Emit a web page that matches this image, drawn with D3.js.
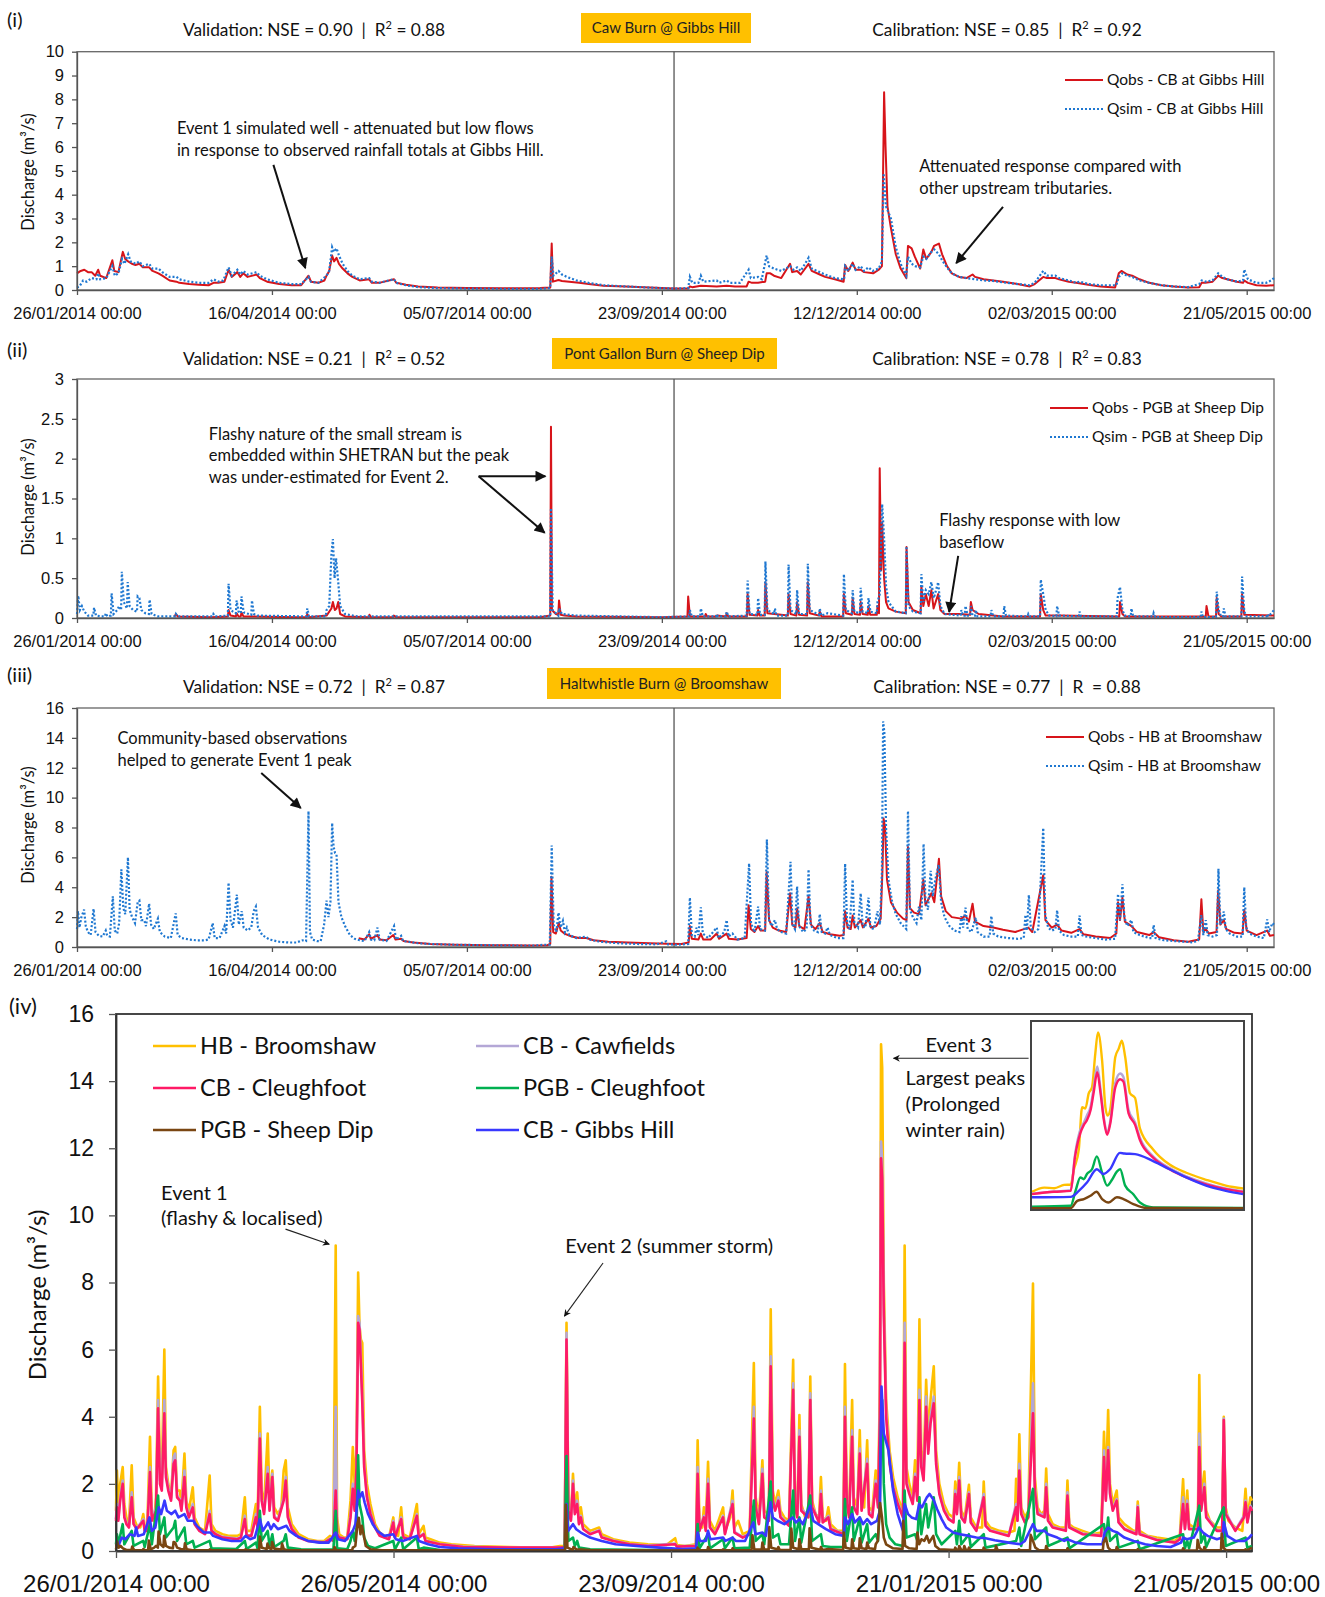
<!DOCTYPE html>
<html>
<head>
<meta charset="utf-8">
<script src="https://cdn.jsdelivr.net/npm/d3@7"></script>
<style>
body { margin: 0; background: #fff; }
svg { font-family: Lato, "Open Sans", sans-serif; }
text { white-space: pre; }
</style>
</head>
<body>
<svg id="chart" width="1325" height="1597"></svg>
<script>
// ---- time axis ----
var START = Date.UTC(2014, 0, 26);
var END_DAY = 491.2;
var DIVIDER_DAY = 245;   // validation | calibration split
var topTicks = ["26/01/2014 00:00", "16/04/2014 00:00", "05/07/2014 00:00", "23/09/2014 00:00",
                "12/12/2014 00:00", "02/03/2015 00:00", "21/05/2015 00:00"];
var bottomTicks = ["26/01/2014 00:00", "26/05/2014 00:00", "23/09/2014 00:00", "21/01/2015 00:00", "21/05/2015 00:00"];

// ---- stats ----
var stations = ["Caw Burn @ Gibbs Hill", "Pont Gallon Burn @ Sheep Dip", "Haltwhistle Burn @ Broomshaw"];
var valNSE = [0.90, 0.21, 0.72];
var valR2 = [0.88, 0.52, 0.87];
var calNSE = [0.85, 0.78, 0.77];
var calR2 = [0.92, 0.83, 0.88];
var obsLabels = ["Qobs - CB at Gibbs Hill", "Qobs - PGB at Sheep Dip", "Qobs - HB at Broomshaw"];
var simLabels = ["Qsim - CB at Gibbs Hill", "Qsim - PGB at Sheep Dip", "Qsim - HB at Broomshaw"];

// ---- series: [day since 26/01/2014, discharge m3/s] ----
var gibObs = [[0,0.7],[1.5,0.8],[3,0.85],[4.5,0.75],[6,0.75],[7.5,0.6],[8.7,0.85],[9.5,0.6],[12,0.5],[14.5,1.25],[15.3,0.8],[17,0.75],[18.8,1.6],[19.8,1.3],[21,1.2],[22.5,1.1],[24,1.05],[25.6,1.1],[27,0.95],[29.6,0.95],[31,0.8],[33.4,0.7],[35,0.6],[38,0.4],[40.8,0.35],[42,0.3],[46,0.25],[50,0.22],[54,0.2],[56,0.3],[58,0.3],[60.5,0.35],[62.2,0.85],[63.5,0.55],[65.8,0.75],[67,0.55],[68.2,0.7],[70,0.55],[73.7,0.65],[75,0.5],[78,0.35],[83,0.25],[88,0.2],[92,0.2],[95,0.6],[96,0.35],[99,0.3],[101.5,0.4],[102.4,0.6],[103.5,0.8],[104.7,1.45],[105.5,1.2],[106.5,1.35],[107.5,1.1],[109,0.9],[111,0.7],[113,0.55],[116,0.4],[119.9,0.45],[121,0.3],[124,0.3],[130.1,0.45],[131,0.3],[135,0.22],[140,0.15],[148,0.1],[160,0.08],[175,0.07],[190,0.08],[194.2,0.1],[194.8,1.95],[195.3,0.35],[197.6,0.42],[199,0.38],[202,0.35],[206,0.3],[210,0.25],[216,0.18],[225,0.15],[235,0.1],[245,0.06],[250.8,0.06],[251.5,0.15],[252.5,0.12],[256,0.18],[262.5,0.15],[266.6,0.18],[270,0.15],[274.8,0.15],[275.6,0.35],[277,0.3],[279.5,0.3],[282.4,0.35],[283,0.7],[284.5,0.7],[286,0.6],[289,0.5],[292.6,1.1],[293.5,0.75],[295.5,0.8],[297,0.65],[300.2,1.1],[301.5,0.8],[304.8,0.65],[307,0.55],[311,0.45],[314.6,0.35],[315.2,1.05],[316.5,0.8],[318.3,1.15],[319.5,0.85],[321.6,0.85],[323,0.75],[326.7,0.7],[329,0.85],[330.3,1.0],[331.2,8.3],[331.8,6.0],[332.6,3.5],[334,2.6],[336,1.5],[338,0.9],[340.3,0.5],[341,1.85],[342.5,1.75],[343.8,1.4],[346,0.9],[347.3,1.7],[348.5,1.3],[350.6,1.6],[351.7,1.85],[353.7,1.95],[355,1.5],[357,1.0],[359,0.7],[362,0.55],[365,0.5],[367.5,0.65],[368.5,0.55],[372,0.45],[376,0.4],[380,0.35],[386,0.25],[391,0.15],[393,0.25],[396.5,0.55],[398,0.5],[401.5,0.5],[403,0.45],[407,0.35],[410,0.3],[415,0.22],[420,0.15],[426,0.1],[427.5,0.7],[428.6,0.8],[431,0.65],[433,0.6],[436,0.45],[440,0.3],[445,0.2],[450,0.15],[456,0.1],[460.5,0.12],[461.5,0.3],[463,0.3],[466,0.35],[468.3,0.6],[470,0.5],[472,0.45],[476,0.35],[478.5,0.3],[479,0.4],[480.5,0.3],[484,0.2],[488,0.18],[491.2,0.2]];

var gibSim = [[0,0.1],[1,0.15],[2.5,0.4],[4,0.35],[6,0.5],[8,0.45],[8.7,0.7],[9.5,0.45],[12,0.5],[14.5,1.0],[15.5,0.6],[17,0.7],[18.5,1.3],[19.5,1.1],[21,1.5],[22,1.2],[24,1.1],[25.6,1.2],[27,1.0],[29.6,1.1],[31,0.9],[33.4,0.9],[35,0.75],[38,0.55],[40.8,0.55],[42,0.45],[46,0.35],[50,0.3],[54,0.3],[56,0.45],[58,0.35],[60,0.4],[62.2,0.95],[63.5,0.6],[65.8,0.85],[67,0.65],[68.2,0.8],[70,0.65],[73.7,0.75],[75,0.6],[78,0.45],[83,0.3],[88,0.25],[92,0.25],[95,0.55],[96,0.35],[99,0.3],[102.4,0.6],[103.5,0.8],[104.7,1.8],[105.5,1.6],[106.5,1.75],[107.5,1.45],[109,1.1],[111,0.8],[113,0.6],[116,0.45],[119.9,0.5],[121,0.35],[124,0.3],[130.1,0.45],[131,0.3],[135,0.2],[140,0.12],[148,0.08],[160,0.06],[175,0.05],[190,0.05],[194.2,0.08],[194.8,1.4],[195.5,0.6],[197.6,0.8],[199,0.65],[201,0.55],[205,0.4],[210,0.3],[216,0.2],[225,0.15],[235,0.1],[245,0.06],[250.8,0.08],[251.5,0.55],[252.5,0.3],[255,0.3],[256,0.6],[257,0.35],[262.5,0.4],[263.5,0.3],[266.6,0.4],[268,0.3],[272,0.3],[275.6,0.85],[276.5,0.5],[279.5,0.55],[281,0.45],[283,1.45],[284,1.0],[286,0.9],[289,0.8],[292.6,1.0],[294,0.85],[295.5,0.95],[297,0.8],[300.2,1.35],[301.5,0.9],[304.8,0.75],[307,0.65],[311,0.5],[314.8,0.45],[315.2,1.0],[316.5,0.8],[318.3,1.1],[319.5,0.85],[321.6,1.0],[323,0.8],[324.8,0.95],[326.5,0.8],[329,0.9],[330.3,1.2],[331,4.9],[332,3.5],[334,3.0],[336,1.8],[338,1.1],[340.3,0.6],[341,1.4],[342.5,1.1],[344,1.0],[346,0.95],[347.3,1.4],[348.5,1.3],[350.6,1.6],[351.8,1.7],[353.7,1.5],[355,1.25],[357,0.95],[359,0.7],[362,0.55],[365,0.5],[368.8,0.45],[372,0.4],[376,0.38],[380,0.32],[386,0.25],[391,0.2],[393,0.3],[396.5,0.8],[398,0.6],[401.5,0.6],[403,0.5],[407,0.4],[410,0.3],[411.4,0.35],[415,0.25],[420,0.2],[426.5,0.2],[427.5,0.55],[429,0.7],[431,0.6],[433,0.55],[436,0.4],[440,0.3],[445,0.2],[450,0.15],[456,0.12],[460.5,0.25],[461.5,0.4],[463,0.35],[466,0.4],[468.3,0.7],[470,0.55],[472,0.45],[476,0.35],[478.5,0.4],[479,0.86],[480.5,0.45],[484,0.3],[488,0.3],[490,0.4],[491.2,0.5]];

var pgbObs = [[40,0.02],[40.6,0.05],[41.3,0.02],[55,0.01],[61.9,0.02],[62.2,0.1],[63,0.03],[65.2,0.02],[65.5,0.06],[66.3,0.02],[67.2,0.02],[67.5,0.07],[68.3,0.02],[72,0.02],[90,0.01],[94.2,0.01],[94.5,0.05],[95.2,0.01],[102.4,0.03],[104.4,0.12],[105,0.2],[105.8,0.1],[106.5,0.12],[107.2,0.2],[108,0.05],[110,0.02],[119.7,0.01],[120,0.04],[120.6,0.01],[129.7,0.01],[130,0.03],[131,0.01],[190,0.01],[194.2,0.03],[194.5,2.4],[194.9,0.1],[196.5,0.05],[197.5,0.04],[197.8,0.22],[198.5,0.04],[200,0.03],[205,0.02],[240,0.01],[250.5,0.02],[250.8,0.27],[251.5,0.02],[257.7,0.02],[258,0.05],[258.6,0.02],[262.2,0.02],[262.5,0.03],[266.3,0.02],[266.6,0.06],[267.2,0.02],[274.9,0.02],[275.2,0.3],[276,0.04],[279.2,0.03],[279.5,0.1],[280.2,0.03],[282.2,0.03],[282.5,0.45],[283.3,0.06],[291.7,0.03],[292,0.3],[292.8,0.05],[295.2,0.03],[295.5,0.2],[296.3,0.04],[299.6,0.03],[299.9,0.45],[300.7,0.06],[304.5,0.03],[304.8,0.08],[305.5,0.02],[314.4,0.02],[314.7,0.3],[315.5,0.06],[318,0.04],[318.3,0.25],[319,0.05],[321.3,0.04],[321.6,0.2],[322.4,0.05],[324.5,0.04],[324.8,0.15],[325.5,0.04],[328.2,0.04],[328.5,0.15],[329.1,0.06],[329.4,1.88],[330,0.6],[330.4,1.2],[331.2,0.5],[332,0.2],[333,0.12],[336,0.08],[340.1,0.06],[340.4,0.89],[341.2,0.2],[343,0.1],[346.2,0.06],[346.5,0.4],[347.3,0.15],[348.3,0.3],[349.5,0.15],[350.6,0.35],[351.5,0.12],[353.4,0.3],[354.3,0.1],[356,0.05],[362,0.05],[366.5,0.04],[366.8,0.2],[367.5,0.1],[370,0.05],[380,0.02],[395.2,0.02],[395.5,0.3],[396.5,0.1],[397.5,0.03],[403,0.03],[427.7,0.02],[428,0.2],[429,0.05],[430,0.02],[440,0.02],[463.2,0.02],[463.5,0.15],[464.3,0.02],[467.4,0.02],[467.7,0.25],[468.5,0.05],[469.5,0.02],[477.8,0.02],[478.1,0.3],[479,0.04],[491.2,0.03]];

var pgbSim = [[0,0.05],[0.5,0.28],[1.2,0.1],[2,0.15],[3,0.08],[4.5,0.03],[6.7,0.03],[7,0.13],[7.8,0.03],[10,0.02],[11.5,0.02],[11.8,0.06],[12.5,0.02],[13.9,0.03],[14.2,0.31],[15,0.05],[16.5,0.1],[17.3,0.15],[18.1,0.1],[18.4,0.58],[19.2,0.2],[20.5,0.12],[20.8,0.45],[21.6,0.15],[23,0.1],[24.6,0.08],[24.9,0.27],[25.6,0.25],[26.4,0.1],[28,0.06],[29.5,0.05],[29.8,0.23],[30.6,0.05],[33,0.02],[40.3,0.02],[40.6,0.05],[41.3,0.02],[55.7,0.02],[56,0.05],[56.8,0.02],[61.9,0.03],[62.2,0.43],[63,0.1],[64,0.08],[65.2,0.06],[65.5,0.22],[66.3,0.08],[67.2,0.06],[67.5,0.27],[68.4,0.07],[70.5,0.05],[71.5,0.04],[71.8,0.22],[72.6,0.05],[74,0.03],[94.2,0.02],[94.5,0.12],[95.2,0.02],[102.1,0.02],[102.4,0.1],[103.5,0.15],[104.4,0.8],[105,0.99],[105.7,0.5],[106.3,0.75],[107.2,0.45],[108,0.15],[110,0.05],[115,0.02],[194.2,0.02],[194.5,1.38],[195.2,0.1],[197.5,0.03],[197.8,0.12],[199,0.05],[205,0.03],[240,0.01],[250.8,0.02],[251.3,0.02],[251.5,0.1],[252.3,0.02],[255.7,0.02],[256,0.12],[256.8,0.02],[262.2,0.02],[262.5,0.05],[263,0.02],[266.3,0.02],[266.6,0.08],[267.3,0.02],[274.8,0.03],[275.2,0.47],[276,0.05],[279.2,0.04],[279.5,0.25],[280.3,0.04],[282.2,0.04],[282.5,0.71],[283.3,0.1],[286,0.05],[286.4,0.12],[287,0.03],[291.7,0.03],[292,0.67],[292.8,0.1],[295.2,0.05],[295.5,0.35],[296.3,0.05],[299.6,0.05],[299.9,0.68],[300.7,0.1],[304.5,0.04],[304.8,0.12],[305.5,0.03],[308,0.06],[314.4,0.03],[314.7,0.55],[315.5,0.1],[318,0.06],[318.3,0.35],[319,0.08],[321.3,0.06],[321.6,0.38],[322.4,0.08],[324.5,0.06],[324.8,0.25],[325.6,0.08],[328.2,0.06],[328.5,0.2],[329.4,0.3],[330.4,1.43],[331.2,1.0],[332,0.4],[333,0.2],[336,0.08],[340.1,0.06],[340.4,0.9],[341.2,0.15],[343,0.08],[346.2,0.06],[346.5,0.55],[347.3,0.2],[348.3,0.35],[349.5,0.3],[350.6,0.45],[351.6,0.25],[353.4,0.45],[354.3,0.15],[356,0.05],[362.6,0.03],[362.9,0.1],[363.5,0.03],[364.3,0.03],[364.6,0.15],[365.5,0.03],[366.5,0.03],[366.8,0.15],[367.5,0.03],[368.5,0.03],[368.8,0.1],[369.5,0.02],[374.9,0.02],[375.2,0.1],[376,0.02],[380.2,0.02],[380.5,0.15],[381.2,0.03],[390.1,0.02],[390.4,0.05],[391,0.02],[395.2,0.02],[395.5,0.48],[396.5,0.3],[397.5,0.1],[399,0.03],[401.9,0.02],[402.2,0.15],[403,0.03],[411.1,0.02],[411.4,0.08],[412,0.02],[426.7,0.02],[427,0.25],[428,0.39],[429,0.1],[430,0.03],[432.4,0.02],[432.7,0.12],[433.4,0.02],[441.5,0.02],[441.8,0.06],[442.4,0.01],[461.1,0.01],[461.4,0.08],[462,0.01],[467.4,0.01],[467.7,0.33],[468.5,0.1],[469.5,0.02],[470.3,0.02],[470.6,0.12],[471.3,0.02],[477.8,0.02],[478.1,0.52],[479,0.08],[480,0.02],[488.1,0.02],[488.4,0.05],[489,0.02],[491.2,0.1]];

var hbObs = [[115.6,0.58],[118,0.5],[119.9,0.85],[120.6,0.55],[123.3,0.8],[124.2,0.5],[127,0.45],[129.8,0.8],[130.7,0.5],[133,0.55],[134,0.4],[138,0.3],[145,0.2],[155,0.15],[170,0.12],[185,0.1],[193,0.12],[194.2,0.2],[194.7,4.7],[195.4,1.0],[196.5,0.9],[197.7,1.6],[198.5,1.1],[200,0.9],[203,0.7],[206,0.6],[209,0.6],[212,0.45],[218,0.35],[226,0.3],[235,0.25],[242,0.22],[248,0.2],[251,0.3],[251.5,1.4],[252.3,0.55],[255,0.5],[256,0.9],[257,0.5],[260,0.5],[262.5,0.9],[263.5,0.55],[266.6,0.9],[267.5,0.55],[271,0.5],[274.8,0.6],[275.6,2.8],[276.5,1.2],[278,1.0],[279.5,1.4],[280.5,1.1],[282.4,1.1],[283,5.0],[284,1.8],[285.5,1.3],[288,1.1],[291,1.0],[292.6,3.6],[293.5,1.5],[294.8,1.3],[295.5,2.6],[296.4,1.4],[298.5,1.2],[300.2,3.4],[301.2,1.5],[303,1.2],[304.8,1.6],[306,1.0],[309,0.85],[313,0.75],[314.6,0.8],[315.2,2.4],[316.2,1.3],[317.5,1.2],[318.3,2.1],[319.2,1.3],[321.6,1.8],[322.5,1.3],[324.8,1.9],[325.8,1.3],[328,1.4],[329.8,1.9],[330.5,5.0],[331,8.6],[331.6,8.0],[332.4,4.5],[334,3.0],[336.5,2.3],[339,1.9],[340.4,1.8],[341,6.7],[341.8,2.6],[343.5,2.3],[345.5,2.2],[347.3,4.5],[348.2,2.8],[350.6,3.6],[351.8,3.0],[353.7,5.9],[354.6,3.4],[356.5,2.4],[359,2.0],[362.9,1.9],[364.6,2.1],[366,1.7],[367.5,2.9],[368.5,1.7],[372,1.4],[376,1.3],[380,1.15],[385,1.0],[390.4,1.3],[392,1.0],[396.5,4.8],[397.4,1.8],[400,1.3],[402.2,1.5],[404,1.1],[408,0.95],[411.4,1.2],[413,0.85],[418,0.7],[424,0.6],[426.5,0.9],[427.2,3.0],[428,1.8],[429,3.3],[430,1.7],[432.7,1.4],[435,1.0],[440,0.8],[441.8,1.0],[444,0.65],[450,0.45],[456,0.35],[460.5,0.5],[461.4,3.2],[462.2,1.0],[463.2,1.2],[464.5,0.9],[467.6,1.0],[468.3,3.8],[469.2,1.5],[470.6,1.8],[471.6,1.2],[475,0.95],[478.3,0.9],[479,2.5],[480,1.1],[484,0.8],[488.4,1.1],[489.5,0.75],[491.2,0.8]];

var hbSim = [[0,1.2],[0.4,2.4],[1,1.3],[1.8,2.0],[2.9,2.5],[3.6,1.4],[4.5,1.0],[5.6,0.8],[6.8,2.55],[7.6,1.0],[9,0.75],[10.5,0.7],[11.8,1.1],[12.4,0.75],[13.5,0.7],[14.7,3.4],[15.5,1.1],[16.5,0.9],[17.3,1.6],[18.2,5.2],[19,2.6],[19.8,2.2],[20.9,6.0],[21.6,2.5],[22.6,2.0],[23.8,1.6],[24.9,3.0],[25.6,3.1],[26.4,1.8],[27.6,1.8],[28.3,1.4],[29.6,2.9],[30.4,1.5],[31.5,1.2],[33.2,1.9],[34,1.0],[36,0.7],[38.5,0.6],[40.5,2.25],[41.3,0.8],[43,0.6],[46,0.5],[49,0.45],[52.4,0.45],[54,0.5],[55.7,1.6],[56.5,0.6],[58.5,0.6],[60.5,1.4],[61.2,0.9],[62.2,4.3],[63,1.8],[64,1.3],[65.6,3.5],[66.4,1.5],[67.6,2.4],[68.4,1.3],[70,1.1],[71.5,1.3],[72.5,2.4],[73.4,2.7],[74.3,1.3],[76,0.8],[79,0.5],[83,0.35],[87,0.3],[90,0.3],[92.5,0.45],[94,0.4],[95,9.1],[95.6,1.0],[96.5,0.5],[98.5,0.4],[100,0.4],[101.4,1.5],[102.4,3.1],[103.2,2.0],[104,3.0],[104.7,8.3],[105.3,6.7],[105.9,6.3],[106.5,6.2],[107.3,3.0],[108.5,2.0],[110,1.4],[112,0.8],[114,0.55],[116,0.45],[118,0.4],[119.9,1.0],[120.6,0.5],[122,0.45],[123.3,1.3],[124.2,0.5],[127,0.4],[130.1,1.4],[130.9,0.5],[133,0.75],[133.8,0.4],[136,0.35],[140,0.25],[145,0.2],[155,0.15],[170,0.12],[180,0.1],[188,0.1],[192,0.15],[194,0.15],[194.8,6.8],[195.6,1.5],[196.7,1.0],[197.6,2.3],[198.4,1.3],[199.4,1.75],[200.2,1.0],[201,1.3],[202,0.8],[205,0.6],[208.9,0.7],[210,0.5],[215,0.35],[222,0.25],[230,0.2],[238,0.18],[241.8,0.38],[242.5,0.18],[246,0.15],[250.8,0.2],[251.5,3.3],[252.3,0.8],[253.5,0.7],[254.2,1.3],[255,0.8],[256,2.66],[256.8,0.9],[259,0.6],[262.5,1.3],[263.3,0.6],[265.6,1.0],[266.6,1.8],[267.4,0.7],[269,0.9],[271,0.5],[274,0.6],[275.8,5.6],[276.6,1.6],[278,1.0],[279.5,2.7],[280.3,1.2],[282.3,1.1],[283.1,7.2],[284,1.8],[285,1.4],[286.4,1.8],[287.3,1.2],[289,1.0],[291,0.9],[292.8,5.7],[293.6,1.5],[294.6,1.2],[295.5,4.05],[296.3,1.4],[298,1.0],[299.4,1.2],[300.2,5.2],[301,1.5],[302.5,1.1],[304,1.0],[304.8,2.2],[305.6,1.0],[307,0.9],[308,1.3],[309,0.8],[312,0.6],[314.5,0.6],[315.2,5.57],[316,1.6],[317,1.2],[318.3,4.5],[319,1.6],[320.5,1.3],[321.6,3.6],[322.4,1.4],[323.5,1.3],[324.8,3.3],[325.6,1.3],[327,1.2],[328.5,2.4],[329.5,1.5],[330.3,5.0],[330.8,15.1],[331.3,14.4],[332,8.0],[333,4.5],[334.5,3.0],[336,2.2],[338,1.6],[340.3,1.2],[341,9.1],[341.8,2.5],[343,2.0],[344.5,1.6],[345.5,2.7],[346.5,1.8],[347.4,6.9],[348.2,3.0],[349.2,2.5],[350.3,5.1],[351.2,3.4],[352.2,4.5],[353.6,5.5],[354.6,3.0],[356,2.0],[358,1.4],[360,1.1],[362.1,1.0],[362.9,2.07],[363.6,1.3],[364.6,2.63],[365.5,1.2],[367,1.0],[368.8,1.97],[369.6,1.0],[372,0.7],[374.5,0.7],[375.2,2.07],[376,0.9],[378,0.7],[382,0.6],[386,0.55],[388.5,0.6],[389.2,2.15],[389.8,1.1],[390.6,3.48],[391.4,1.3],[393,1.0],[394.5,1.2],[396.5,7.97],[397.3,2.2],[398.5,1.3],[400,1.1],[401.5,1.2],[402.2,2.46],[403,1.1],[405,0.8],[408,0.7],[410.7,0.7],[411.4,2.1],[412.2,0.8],[414,0.7],[418,0.6],[422,0.5],[426,0.55],[427.2,3.55],[428,1.8],[429,4.2],[429.8,2.0],[431,1.4],[432.7,1.8],[433.5,1.0],[436,0.8],[440,0.6],[441.2,0.6],[441.8,1.47],[442.6,0.6],[446,0.45],[450,0.4],[455,0.35],[458,0.3],[460,0.45],[461.4,2.14],[462.2,0.8],[463.2,1.8],[464,0.8],[466,0.7],[467.8,0.8],[468.4,5.24],[469.2,1.5],[470.6,2.37],[471.4,1.2],[473,0.9],[476,0.7],[478.3,0.7],[479,4.0],[479.8,1.3],[481,0.9],[484,0.7],[487,0.6],[487.7,1.2],[488.4,1.85],[489.2,1.0],[490.5,1.6],[491.2,1.5]];

var cbCleugh = [[0,0.9],[0.4,1.3],[1,0.9],[1.8,1.5],[2.9,2.0],[3.6,1.0],[4.5,0.8],[5.6,0.7],[6.8,1.6],[7.6,0.8],[9,0.65],[11.8,0.9],[12.4,0.6],[13.5,0.6],[14.7,2.35],[15.5,0.9],[17.3,1.2],[18.2,4.25],[19,2.0],[19.8,1.8],[20.9,4.1],[21.6,2.2],[22.6,1.8],[23.8,1.5],[24.9,2.6],[25.6,2.7],[26.4,1.6],[27.6,1.5],[28.3,1.2],[29.6,2.2],[30.4,1.3],[31.5,1.0],[33.2,1.3],[34,0.8],[36,0.6],[38.5,0.5],[40.5,1.1],[41.3,0.6],[43,0.5],[46,0.4],[52.4,0.35],[54,0.4],[55.7,0.95],[56.5,0.45],[58.5,0.45],[60.5,1.0],[61.2,0.7],[62.2,3.35],[63,1.5],[64,1.1],[65.6,2.3],[66.4,1.2],[67.6,2.2],[68.4,1.0],[70,0.9],[72.5,1.5],[73.4,2.1],[74.3,1.0],[76,0.65],[79,0.4],[83,0.3],[90,0.25],[92.5,0.35],[94,0.3],[95,1.8],[95.6,0.5],[96.5,0.4],[100,0.35],[101.4,1.0],[102.4,1.85],[103.2,1.2],[104,2.5],[104.7,6.8],[105.3,6.6],[105.9,5.5],[106.5,4.4],[107.3,2.5],[108.5,1.6],[110,1.1],[112,0.7],[114,0.45],[118,0.35],[119.9,0.85],[120.6,0.4],[123.3,0.95],[124.2,0.4],[127,0.35],[130.1,1.05],[130.9,0.4],[133,0.5],[133.8,0.3],[140,0.2],[150,0.12],[170,0.1],[192,0.1],[194,0.12],[194.8,6.3],[195.6,1.2],[196.7,0.9],[197.6,2.0],[198.4,1.1],[199.4,1.4],[200.2,0.8],[201,1.0],[202,0.65],[205,0.5],[208.9,0.6],[210,0.4],[215,0.3],[222,0.2],[230,0.15],[241.8,0.2],[242.5,0.13],[250.8,0.15],[251.5,2.3],[252.3,0.6],[254.2,1.0],[255,0.6],[256,2.0],[256.8,0.7],[259,0.5],[262.5,1.0],[263.3,0.5],[266.6,1.4],[267.4,0.55],[271,0.4],[274,0.5],[275.8,3.95],[276.6,1.3],[278,0.8],[279.5,2.3],[280.3,1.0],[282.3,0.9],[283.1,5.5],[284,1.5],[285,1.2],[286.4,1.5],[287.3,1.0],[291,0.75],[292.8,4.8],[293.6,1.3],[294.6,1.0],[295.5,3.4],[296.3,1.2],[299.4,1.0],[300.2,4.5],[301,1.3],[304,0.85],[304.8,1.7],[305.6,0.85],[308,1.0],[309,0.65],[314.5,0.5],[315.2,4.0],[316,1.4],[317,1.0],[318.3,3.4],[319,1.3],[320.5,1.1],[321.6,2.9],[322.4,1.2],[324.8,2.6],[325.6,1.1],[327,1.0],[328.5,2.0],[329.5,1.3],[330.3,4.0],[330.8,11.7],[331.3,11.1],[332,7.0],[333,4.0],[334.5,2.6],[336,1.9],[338,1.4],[340.3,1.0],[341,6.2],[341.8,2.0],[343,1.7],[344.5,1.4],[345.5,2.2],[346.5,1.5],[347.4,4.5],[348.2,2.5],[349.2,2.1],[350.3,4.3],[351.2,2.9],[352.2,3.8],[353.6,4.4],[354.6,2.6],[356,1.7],[358,1.2],[360,0.95],[362.1,0.85],[362.9,1.7],[363.6,1.1],[364.6,2.1],[365.5,1.0],[367,0.85],[368.8,1.7],[369.6,0.85],[372,0.6],[375.2,1.6],[376,0.75],[378,0.6],[386,0.45],[389.2,1.3],[389.8,0.9],[390.6,2.4],[391.4,1.1],[393,0.85],[394.5,1.0],[396.5,4.1],[397.3,1.8],[398.5,1.1],[401.5,1.0],[402.2,1.9],[403,0.9],[405,0.7],[410.7,0.6],[411.4,1.65],[412.2,0.7],[418,0.5],[426,0.45],[427.2,2.8],[428,1.5],[429,3.0],[429.8,1.7],[431,1.2],[432.7,1.5],[433.5,0.85],[436,0.65],[441.2,0.5],[441.8,1.3],[442.6,0.5],[450,0.33],[458,0.25],[460,0.35],[461.4,1.4],[462.2,0.65],[463.2,1.4],[464,0.65],[467.8,0.65],[468.4,3.1],[469.2,1.2],[470.6,1.9],[471.4,1.0],[476,0.6],[478.3,0.6],[479,3.9],[479.8,1.1],[484,0.6],[487.7,1.0],[488.4,1.45],[489.2,0.85],[490.5,1.3],[491.2,1.2]];

var cbCaw = [[0,0.95],[0.4,1.4],[1,0.95],[1.8,1.6],[2.9,2.1],[3.6,1.05],[4.5,0.85],[5.6,0.72],[6.8,1.75],[7.6,0.82],[9,0.67],[11.8,0.95],[12.4,0.62],[13.5,0.62],[14.7,2.5],[15.5,0.95],[17.3,1.3],[18.2,4.5],[19,2.1],[19.8,1.9],[20.9,4.5],[21.6,2.3],[22.6,1.9],[23.8,1.55],[24.9,2.8],[25.6,2.9],[26.4,1.65],[27.6,1.55],[28.3,1.25],[29.6,2.4],[30.4,1.35],[31.5,1.05],[33.2,1.4],[34,0.82],[36,0.62],[38.5,0.52],[40.5,1.2],[41.3,0.62],[43,0.52],[46,0.42],[52.4,0.37],[54,0.42],[55.7,1.05],[56.5,0.47],[58.5,0.47],[60.5,1.1],[61.2,0.72],[62.2,3.5],[63,1.55],[64,1.15],[65.6,2.5],[66.4,1.25],[67.6,2.3],[68.4,1.05],[70,0.92],[72.5,1.6],[73.4,2.2],[74.3,1.05],[76,0.67],[79,0.42],[83,0.31],[90,0.26],[92.5,0.37],[94,0.31],[95,4.3],[95.6,0.55],[96.5,0.42],[100,0.36],[101.4,1.1],[102.4,2.0],[103.2,1.25],[104,2.6],[104.7,7.0],[105.3,6.8],[105.9,5.7],[106.5,4.6],[107.3,2.6],[108.5,1.65],[110,1.15],[112,0.72],[114,0.47],[118,0.36],[119.9,0.9],[120.6,0.42],[123.3,1.0],[124.2,0.42],[127,0.36],[130.1,1.1],[130.9,0.42],[133,0.52],[133.8,0.31],[140,0.21],[150,0.13],[170,0.1],[192,0.1],[194,0.12],[194.8,6.5],[195.6,1.25],[196.7,0.92],[197.6,2.1],[198.4,1.15],[199.4,1.5],[200.2,0.82],[201,1.05],[202,0.67],[205,0.52],[208.9,0.62],[210,0.42],[215,0.31],[222,0.21],[230,0.16],[241.8,0.22],[242.5,0.14],[250.8,0.16],[251.5,2.5],[252.3,0.62],[254.2,1.05],[255,0.62],[256,2.15],[256.8,0.72],[259,0.52],[262.5,1.05],[263.3,0.52],[266.6,1.5],[267.4,0.57],[271,0.42],[274,0.52],[275.8,4.3],[276.6,1.35],[278,0.82],[279.5,2.45],[280.3,1.05],[282.3,0.92],[283.1,5.8],[284,1.55],[285,1.25],[286.4,1.6],[287.3,1.05],[291,0.77],[292.8,5.0],[293.6,1.35],[294.6,1.05],[295.5,3.6],[296.3,1.25],[299.4,1.05],[300.2,4.7],[301,1.35],[304,0.87],[304.8,1.8],[305.6,0.87],[308,1.05],[309,0.67],[314.5,0.52],[315.2,4.3],[316,1.45],[317,1.05],[318.3,3.6],[319,1.35],[320.5,1.15],[321.6,3.05],[322.4,1.25],[324.8,2.75],[325.6,1.15],[327,1.05],[328.5,2.1],[329.5,1.35],[330.3,4.2],[330.8,12.2],[331.3,11.6],[332,7.3],[333,4.2],[334.5,2.7],[336,1.95],[338,1.45],[340.3,1.05],[341,6.8],[341.8,2.1],[343,1.75],[344.5,1.45],[345.5,2.3],[346.5,1.55],[347.4,4.8],[348.2,2.6],[349.2,2.2],[350.3,4.6],[351.2,3.0],[352.2,4.0],[353.6,4.6],[354.6,2.7],[356,1.75],[358,1.25],[360,0.97],[362.1,0.87],[362.9,1.8],[363.6,1.15],[364.6,2.2],[365.5,1.05],[367,0.87],[368.8,1.75],[369.6,0.87],[372,0.62],[375.2,1.7],[376,0.77],[378,0.62],[386,0.47],[389.2,1.4],[389.8,0.92],[390.6,2.6],[391.4,1.15],[393,0.87],[394.5,1.05],[396.5,5.0],[397.3,1.9],[398.5,1.15],[401.5,1.05],[402.2,2.0],[403,0.92],[405,0.72],[410.7,0.62],[411.4,1.75],[412.2,0.72],[418,0.52],[426,0.47],[427.2,3.0],[428,1.55],[429,3.1],[429.8,1.75],[431,1.25],[432.7,1.55],[433.5,0.87],[436,0.67],[441.2,0.52],[441.8,1.35],[442.6,0.52],[450,0.34],[458,0.26],[460,0.36],[461.4,1.6],[462.2,0.67],[463.2,1.5],[464,0.67],[467.8,0.67],[468.4,3.5],[469.2,1.25],[470.6,2.0],[471.4,1.05],[476,0.62],[478.3,0.62],[479,3.95],[479.8,1.15],[484,0.62],[487.7,1.05],[488.4,1.5],[489.2,0.87],[490.5,1.35],[491.2,1.25]];

var pgbCleugh = [[0,0.2],[0.4,0.5],[1,0.2],[2.9,0.8],[3.6,0.2],[6.8,0.6],[7.6,0.15],[11.8,0.3],[12.4,0.12],[14.7,0.8],[15.5,0.2],[18.2,1.65],[19,0.5],[20.9,1.0],[21.6,0.4],[24.9,0.7],[25.6,0.9],[26.4,0.3],[29.6,0.7],[30.4,0.2],[33.2,0.3],[34,0.1],[40.5,0.3],[41.3,0.08],[52,0.06],[55.7,0.3],[56.5,0.06],[60.5,0.25],[61.2,0.08],[62.2,1.2],[63,0.3],[65.6,0.6],[66.4,0.15],[67.6,0.5],[68.4,0.12],[72.5,0.3],[73.4,0.5],[74.3,0.1],[80,0.05],[94,0.04],[95,1.2],[95.6,0.08],[100,0.05],[101.4,0.3],[102.4,0.6],[103.2,0.3],[104,0.7],[104.7,2.85],[105.3,1.4],[106.5,1.0],[107.3,0.4],[109,0.15],[112,0.08],[119.9,0.3],[120.6,0.05],[123.3,0.4],[124.2,0.05],[130.1,0.4],[130.9,0.05],[133,0.1],[140,0.03],[192,0.02],[194,0.03],[194.8,2.83],[195.6,0.3],[197.6,0.4],[198.4,0.15],[199.4,0.3],[200.2,0.1],[205,0.05],[240,0.02],[250.8,0.03],[251.5,0.8],[252.3,0.08],[256,0.5],[256.8,0.08],[262.5,0.35],[263.3,0.08],[266.6,0.4],[267.4,0.08],[274,0.1],[275.8,1.5],[276.6,0.3],[279.5,0.5],[280.3,0.2],[283.1,2.07],[284,0.4],[286.4,0.5],[287.3,0.2],[291,0.2],[292.8,1.8],[293.6,0.3],[295.5,1.0],[296.3,0.25],[300.2,1.65],[301,0.3],[304.8,0.5],[305.6,0.15],[309,0.12],[314.5,0.12],[315.2,1.55],[316,0.3],[318.3,1.3],[319,0.3],[321.6,1.0],[322.4,0.25],[324.8,0.8],[325.6,0.25],[328.5,0.5],[329.5,0.3],[330.3,1.5],[330.8,3.8],[331.3,4.5],[332,2.0],[333,0.8],[334.5,0.4],[337,0.2],[340.3,0.15],[341,1.8],[341.8,0.4],[345.5,0.5],[346.5,0.3],[347.4,1.6],[348.2,0.5],[350.3,1.4],[351.2,0.7],[353.6,1.6],[354.6,0.5],[357,0.2],[362.9,0.6],[363.6,0.2],[364.6,0.9],[365.5,0.2],[368.8,0.5],[369.6,0.12],[375.2,0.5],[376,0.1],[389.2,0.3],[390.6,0.7],[391.4,0.15],[396.5,1.85],[397.3,0.35],[402.2,0.7],[403,0.15],[411.4,0.4],[412.2,0.08],[427.2,0.8],[428,0.3],[429,1.0],[429.8,0.3],[432.7,0.5],[433.5,0.1],[441.8,0.3],[442.6,0.05],[461.4,0.5],[462.2,0.08],[463.2,0.3],[464,0.08],[468.4,1.35],[469.2,0.25],[470.6,0.5],[471.4,0.12],[479,1.3],[479.8,0.15],[488.4,0.4],[489.2,0.1],[491.2,0.15]];

// ---- inset (Event 3 close-up): [hour in window, discharge] ----
var insetHB = [[0,1.47],[5.6,1.83],[10.1,1.78],[14.6,2.06],[17.6,2.1],[19.1,3.4],[21.3,5.1],[22.8,8.7],[24.3,8.6],[25.8,9.9],[27.3,10.4],[28.8,13.3],[30,15.1],[31.9,12.7],[33.4,8.7],[34.4,8.0],[35.6,8.5],[37.9,13.0],[39.4,13.7],[40.9,14.4],[42.4,13.0],[44.6,9.9],[46.9,9.5],[49.1,6.9],[55.1,5.1],[62.6,3.8],[70.2,3.1],[79.2,2.5],[88.2,2.0],[96,1.75]];
var insetCaw = [[0,1.3],[10,1.5],[17.6,1.6],[19.6,4.7],[22,6.8],[23.6,7.4],[25,8.0],[26.7,8.8],[28,10.3],[29.7,12.2],[31.2,10.2],[32.7,7.8],[34.2,6.5],[35.6,7.5],[37.9,10.8],[40.1,11.6],[41.6,11.3],[43.9,8.5],[46.9,7.4],[49.1,6.1],[55.1,4.5],[62.6,3.5],[70.2,2.8],[79.2,2.2],[88.2,1.75],[96,1.5]];
var insetCbc = [[0,1.27],[10,1.47],[17.6,1.55],[19.6,4.5],[22,6.5],[23.6,7.2],[25,7.6],[26.7,8.5],[28,9.9],[29.7,11.7],[31.2,9.9],[32.7,7.6],[34.2,6.35],[35.6,7.3],[37.9,10.4],[40.1,11.1],[41.6,10.9],[43.9,8.2],[46.9,7.2],[49.1,5.9],[55.1,4.4],[62.6,3.4],[70.2,2.7],[79.2,2.1],[88.2,1.7],[96,1.47]];
var insetGib = [[0,1.0],[17.6,1.04],[21.3,1.55],[25,2.26],[29.5,3.4],[32.5,3.0],[35.5,3.4],[40,4.8],[42,4.75],[46.9,4.7],[55.1,4.1],[62.6,3.4],[70.2,2.7],[79.2,2.0],[88.2,1.55],[96,1.27]];
var insetPgbc = [[0,0.2],[17.6,0.28],[19.8,1.55],[22,2.7],[23.6,2.55],[25,3.0],[27.3,3.4],[29.5,4.5],[31.9,3.1],[34.2,2.0],[36.4,2.5],[38.6,3.2],[40.1,3.4],[42.4,2.0],[46.1,1.27],[49.1,0.56],[55.1,0.14],[96,0.08]];
var insetPgbSim = [[0,0.06],[17.6,0.06],[20.6,0.7],[23.6,0.85],[26.6,1.13],[29.3,1.47],[31.9,0.85],[34.9,0.56],[38.6,1.0],[41.6,0.85],[46.1,0.42],[52.1,0.08],[96,0.06]];

// ---- helpers ----
var RED = "#d7141a", BLUE = "#1f78d1";
var fmtTick = d3.utcFormat("%d/%m/%Y %H:%M");
var parseTick = d3.utcParse("%d/%m/%Y %H:%M");
var toDate = d => new Date(START + d * 864e5);
var f2 = d3.format(".2f");

var svg = d3.select("#chart");
var defs = svg.append("defs");

defs.append("marker").attr("id", "headBig")
    .attr("viewBox", "0 0 10 10").attr("refX", 9).attr("refY", 5)
    .attr("markerUnits", "userSpaceOnUse").attr("markerWidth", 13).attr("markerHeight", 11)
    .attr("orient", "auto")
  .append("path").attr("d", "M0,0 L10,5 L0,10 z").attr("fill", "#111");

defs.append("marker").attr("id", "headSmall")
    .attr("viewBox", "0 0 10 10").attr("refX", 9).attr("refY", 5)
    .attr("markerUnits", "userSpaceOnUse").attr("markerWidth", 9).attr("markerHeight", 7)
    .attr("orient", "auto")
  .append("path").attr("d", "M0,0 L10,5 L0,10 L3,5 z").attr("fill", "#111");

function styleAxis(g, size) {
    g.select(".domain").attr("stroke", "#555").attr("stroke-width", 1.3);
    g.selectAll(".tick line").attr("stroke", "#555").attr("stroke-width", 1.3);
    g.selectAll(".tick text").attr("font-size", size).attr("fill", "#111");
}

function statText(g, x, y, label, nse, r2, sup) {
    let t = g.append("text").attr("x", x).attr("y", y).attr("text-anchor", "middle")
        .attr("font-size", 17.3).attr("fill", "#111");
    t.append("tspan").text(label + ": NSE = " + f2(nse) + "  |  R");
    if (sup) {
        t.append("tspan").attr("font-size", 11).attr("dy", -7).text("2");
        t.append("tspan").attr("dy", 7).text(" = " + f2(r2));
    } else {
        t.append("tspan").text("  = " + f2(r2));
    }
}

// ---- panels i - iii ----
var panels = [
    {roman: "(i)", top: 51.7, bottom: 290, yMax: 10, yTicks: d3.range(0, 11, 1), obs: gibObs, sim: gibSim,
     titleY: 36, boxY: 13, boxH: 30, boxX: 581, boxW: 170, legX: 1065, legY: 80, labY: 172, romanY: 27,
     notes: [{lines: ["Event 1 simulated well - attenuated but low flows", "in response to observed rainfall totals at Gibbs Hill."], day: 41, v: 6.8, dv: 0.92}],
     arrows: [[80.6, 5.25, 93.7, 0.92], [380, 3.49, 360.8, 1.13]],
     notes2: [{lines: ["Attenuated response compared with", "other upstream tributaries."], day: 345.6, v: 5.21, dv: 0.92}]},
    {roman: "(ii)", top: 379, bottom: 618, yMax: 3, yTicks: d3.range(0, 3.01, 0.5), obs: pgbObs, sim: pgbSim,
     titleY: 365, boxY: 338, boxH: 31, boxX: 552, boxW: 225, legX: 1050, legY: 408, labY: 497, romanY: 357,
     notes: [{lines: ["Flashy nature of the small stream is", "embedded within SHETRAN but the peak", "was under-estimated for Event 2."], day: 54.1, v: 2.31, dv: 0.27}],
     arrows: [[164.8, 1.78, 192.2, 1.78], [164.8, 1.78, 191.9, 1.07], [361.6, 0.78, 357.9, 0.075]],
     notes2: [{lines: ["Flashy response with low", "baseflow"], day: 353.8, v: 1.23, dv: 0.28}]},
    {roman: "(iii)", top: 708, bottom: 947, yMax: 16, yTicks: d3.range(0, 17, 2), obs: hbObs, sim: hbSim,
     titleY: 693, boxY: 668, boxH: 31, boxX: 547, boxW: 234, legX: 1046, legY: 737, labY: 825, romanY: 682,
     notes: [{lines: ["Community-based observations", "helped to generate Event 1 peak"], day: 16.6, v: 14.0, dv: 1.5}],
     arrows: [[75.6, 11.65, 91.8, 9.3]],
     notes2: []}
];

panels.forEach(function(p, i) {
    let left = 77, right = 1274;
    let x = d3.scaleUtc().domain([toDate(0), toDate(END_DAY)]).range([left, right]);
    let y = d3.scaleLinear().domain([0, p.yMax]).range([p.bottom, p.top]);
    let g = svg.append("g");

    g.append("rect").attr("x", left).attr("y", p.top).attr("width", right - left).attr("height", p.bottom - p.top)
        .attr("fill", "none").attr("stroke", "#666").attr("stroke-width", 1.3);

    g.append("line").attr("x1", x(toDate(DIVIDER_DAY))).attr("x2", x(toDate(DIVIDER_DAY)))
        .attr("y1", p.top).attr("y2", p.bottom).attr("stroke", "#555").attr("stroke-width", 1.3);

    let line = d3.line().x(d => x(toDate(d[0]))).y(d => y(d[1]));
    g.append("path").datum(p.obs).attr("d", line).attr("fill", "none")
        .attr("stroke", RED).attr("stroke-width", 2).attr("stroke-linejoin", "round");
    g.append("path").datum(p.sim).attr("d", line).attr("fill", "none")
        .attr("stroke", BLUE).attr("stroke-width", 2.2).attr("stroke-dasharray", "2,2");

    g.append("g").attr("transform", `translate(${left},0)`)
        .call(d3.axisLeft(y).tickValues(p.yTicks).tickSize(5).tickPadding(8).tickSizeOuter(0).tickFormat(d3.format("~g")))
        .call(a => styleAxis(a, 16.5));
    g.append("g").attr("transform", `translate(0,${p.bottom})`)
        .call(d3.axisBottom(x).tickValues(topTicks.map(parseTick)).tickFormat(fmtTick).tickSize(5).tickPadding(12).tickSizeOuter(0))
        .call(a => styleAxis(a, 16.5));

    g.append("text").attr("transform", `translate(34,${p.labY}) rotate(-90)`).attr("text-anchor", "middle")
        .attr("font-size", 16.5).attr("fill", "#111").text("Discharge (m³/s)");
    g.append("text").attr("x", 7).attr("y", p.romanY).attr("font-size", 20).attr("fill", "#111").text(p.roman);

    statText(g, 314, p.titleY, "Validation", valNSE[i], valR2[i], true);
    statText(g, 1007, p.titleY, "Calibration", calNSE[i], calR2[i], i < 2);

    g.append("rect").attr("x", p.boxX).attr("y", p.boxY).attr("width", p.boxW).attr("height", p.boxH).attr("fill", "#ffc000");
    g.append("text").attr("x", p.boxX + p.boxW / 2).attr("y", p.boxY + p.boxH / 2 + 5).attr("text-anchor", "middle")
        .attr("font-size", 15).attr("fill", "#222").text(stations[i]);

    // legend
    [[obsLabels[i], RED, null], [simLabels[i], BLUE, "2,2"]].forEach(function(e, k) {
        let ly = p.legY + k * 29;
        g.append("line").attr("x1", p.legX).attr("x2", p.legX + 38).attr("y1", ly).attr("y2", ly)
            .attr("stroke", e[1]).attr("stroke-width", 2.2).attr("stroke-dasharray", e[2]);
        g.append("text").attr("x", p.legX + 42).attr("y", ly + 5).attr("font-size", 15.5).attr("fill", "#111").text(e[0]);
    });

    p.notes.concat(p.notes2).forEach(function(n) {
        n.lines.forEach(function(s, k) {
            g.append("text").attr("x", x(toDate(n.day))).attr("y", y(n.v - k * n.dv)).attr("dy", "0.35em")
                .attr("font-size", 16.5).attr("fill", "#111").text(s);
        });
    });
    p.arrows.forEach(function(a) {
        g.append("line").attr("x1", x(toDate(a[0]))).attr("y1", y(a[1])).attr("x2", x(toDate(a[2]))).attr("y2", y(a[3]))
            .attr("stroke", "#111").attr("stroke-width", 2).attr("marker-end", "url(#headBig)");
    });
});

// ---- panel iv ----
var combined = [
    {name: "HB - Broomshaw", color: "#ffc000", data: hbSim, inset: insetHB},
    {name: "CB - Cawfields", color: "#b4a7d6", data: cbCaw, inset: insetCaw},
    {name: "CB - Cleughfoot", color: "#ff1a66", data: cbCleugh, inset: insetCbc},
    {name: "PGB - Cleughfoot", color: "#00b050", data: pgbCleugh, inset: insetPgbc},
    {name: "CB - Gibbs Hill", color: "#3838ff", data: gibSim, inset: insetGib},
    {name: "PGB - Sheep Dip", color: "#7a4612", data: pgbSim, inset: insetPgbSim}
];
var legendOrder = ["HB - Broomshaw", "CB - Cawfields", "CB - Cleughfoot", "PGB - Cleughfoot", "PGB - Sheep Dip", "CB - Gibbs Hill"];

(function() {
    let left = 116, right = 1252, top = 1014, bottom = 1551;
    let x = d3.scaleUtc().domain([toDate(0), toDate(END_DAY)]).range([left, right]);
    let y = d3.scaleLinear().domain([0, 16]).range([bottom, top]);
    let g = svg.append("g");

    g.append("rect").attr("x", left).attr("y", top).attr("width", right - left).attr("height", bottom - top)
        .attr("fill", "none").attr("stroke", "#333").attr("stroke-width", 1.8);

    let line = d3.line().x(d => x(toDate(d[0]))).y(d => y(d[1]));
    combined.forEach(function(s) {
        g.append("path").datum(s.data).attr("d", line).attr("fill", "none")
            .attr("stroke", s.color).attr("stroke-width", 2.6).attr("stroke-linejoin", "round");
    });

    g.append("g").attr("transform", `translate(${left},0)`)
        .call(d3.axisLeft(y).tickValues(d3.range(0, 17, 2)).tickSize(7).tickPadding(15).tickSizeOuter(0))
        .call(a => styleAxis(a, 23))
        .call(a => a.select(".domain").attr("stroke", "#333").attr("stroke-width", 1.8));
    g.append("g").attr("transform", `translate(0,${bottom})`)
        .call(d3.axisBottom(x).tickValues(bottomTicks.map(parseTick)).tickFormat(fmtTick).tickSize(7).tickPadding(17).tickSizeOuter(0))
        .call(a => styleAxis(a, 24))
        .call(a => a.select(".domain").attr("stroke", "#333").attr("stroke-width", 1.8));

    g.append("text").attr("transform", "translate(46,1295) rotate(-90)").attr("text-anchor", "middle")
        .attr("font-size", 24).attr("fill", "#111").text("Discharge (m³/s)");
    g.append("text").attr("x", 9).attr("y", 1014).attr("font-size", 22).attr("fill", "#111").text("(iv)");

    // legend, two columns
    legendOrder.forEach(function(name, k) {
        let s = combined.find(c => c.name === name);
        let lx = k % 2 === 0 ? 153 : 476, ly = 1046 + Math.floor(k / 2) * 42;
        g.append("line").attr("x1", lx).attr("x2", lx + 43).attr("y1", ly).attr("y2", ly)
            .attr("stroke", s.color).attr("stroke-width", 2.6);
        g.append("text").attr("x", lx + 47).attr("y", ly + 8).attr("font-size", 23.5).attr("fill", "#111").text(name);
    });

    // annotations
    let notes = [
        {lines: ["Event 1", "(flashy & localised)"], day: 19.5, v: 10.66, dv: 0.75},
        {lines: ["Event 2 (summer storm)"], day: 194.3, v: 9.08, dv: 0},
        {lines: ["Event 3"], day: 350, v: 15.07, dv: 0},
        {lines: ["Largest peaks", "(Prolonged", "winter rain)"], day: 341.4, v: 14.09, dv: 0.775}
    ];
    notes.forEach(function(n) {
        n.lines.forEach(function(s, k) {
            g.append("text").attr("x", x(toDate(n.day))).attr("y", y(n.v - k * n.dv)).attr("dy", "0.35em")
                .attr("font-size", 20).attr("fill", "#111").text(s);
        });
    });
    [[73.3, 9.59, 92.2, 9.14], [210.6, 8.58, 193.9, 7.0], [394.6, 14.68, 336.2, 14.68]].forEach(function(a) {
        g.append("line").attr("x1", x(toDate(a[0]))).attr("y1", y(a[1])).attr("x2", x(toDate(a[2]))).attr("y2", y(a[3]))
            .attr("stroke", "#222").attr("stroke-width", 1.1).attr("marker-end", "url(#headSmall)");
    });

    // inset
    let ix0 = 1031, ix1 = 1244, iy0 = 1021, iy1 = 1210;
    let ix = d3.scaleLinear().domain([0, 96]).range([ix0 + 1, ix1 - 1]);
    let iy = d3.scaleLinear().domain([0, 16]).range([iy1 - 1, iy0 + 1]);
    defs.append("clipPath").attr("id", "insetClip").append("rect")
        .attr("x", ix0).attr("y", iy0).attr("width", ix1 - ix0).attr("height", iy1 - iy0);
    g.append("rect").attr("x", ix0).attr("y", iy0).attr("width", ix1 - ix0).attr("height", iy1 - iy0).attr("fill", "#fff");
    let ig = g.append("g").attr("clip-path", "url(#insetClip)");
    let iline = d3.line().x(d => ix(d[0])).y(d => iy(d[1])).curve(d3.curveMonotoneX);
    combined.forEach(function(s) {
        ig.append("path").datum(s.inset).attr("d", iline).attr("fill", "none")
            .attr("stroke", s.color).attr("stroke-width", 2.4);
    });
    g.append("rect").attr("x", ix0).attr("y", iy0).attr("width", ix1 - ix0).attr("height", iy1 - iy0)
        .attr("fill", "none").attr("stroke", "#444").attr("stroke-width", 2);
})();
</script>
</body>
</html>
